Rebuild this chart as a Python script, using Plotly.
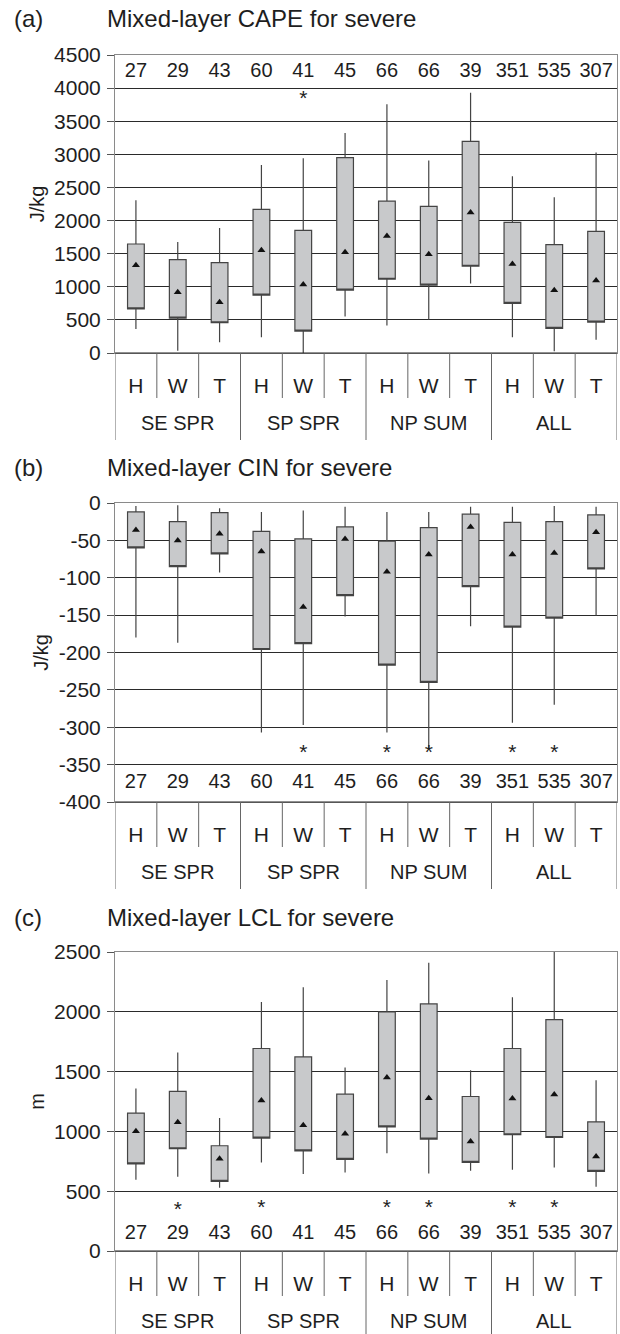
import plotly.graph_objects as go
from plotly.subplots import make_subplots

# ---------------- data ----------------
groups = ["SE SPR", "SP SPR", "NP SUM", "ALL"]
subcats = ["H", "W", "T"]
counts = [27, 29, 43, 60, 41, 45, 66, 66, 39, 351, 535, 307]

# (a) Mixed-layer CAPE (J/kg)
cape_upper = [2308, 1676, 1887, 2840, 2940, 3322, 3758, 2905, 3929, 2669, 2353, 3026]
cape_q3    = [1646, 1410, 1365, 2168, 1851, 2950, 2293, 2213, 3196, 1972, 1636, 1836]
cape_mean  = [1325,  918,  768, 1550, 1034, 1520, 1766, 1490, 2122, 1345,  948, 1094]
cape_q1    = [ 667,  527,  457,  873,  331,  948, 1114, 1024, 1310,  748,  371,  467]
cape_lower = [ 361,   35,  161,  236,    0,  552,  416,  502, 1049,  236,   25,  201]
cape_out_idx = [4]
cape_out_val = [3830]

# (b) Mixed-layer CIN (J/kg)
cin_upper = [-4, -3, -7, -12, -10, -5, -12, -12, -5, -5, -4, -5]
cin_q3    = [-12, -25, -13, -38, -48, -32, -51, -33, -15, -26, -25, -16]
cin_mean  = [-36, -50, -41, -65, -139, -48, -92, -69, -32, -69, -67, -39]
cin_q1    = [-60, -85, -68, -196, -188, -124, -217, -240, -112, -166, -154, -88]
cin_lower = [-180, -187, -93, -307, -297, -152, -307, -329, -165, -294, -270, -151]
cin_out_idx = [4, 6, 7, 9, 10]
cin_out_val = [-336, -336, -336, -336, -336]

# (c) Mixed-layer LCL (m)
lcl_upper = [1359, 1659, 1111, 2082, 2205, 1534, 2266, 2411, 1512, 2121, 2500, 1428]
lcl_q3    = [1153, 1334,  880, 1693, 1623, 1311, 1999, 2066, 1292, 1693, 1935, 1080]
lcl_mean  = [1002, 1077,  771, 1258, 1052,  980, 1450, 1278,  916, 1275, 1308,  791]
lcl_q1    = [ 729,  855,  582,  944,  838,  766, 1038,  935,  741,  972,  949,  665]
lcl_lower = [ 596,  621,  529,  741,  643,  657,  818,  649,  671,  679,  699,  537]
lcl_out_idx = [1, 3, 6, 7, 9, 10]
lcl_out_val = [338, 355, 355, 355, 355, 355]

panel_letters = ["(a)", "(b)", "(c)"]
panel_titles = ["Mixed-layer CAPE for severe", "Mixed-layer CIN for severe",
                "Mixed-layer LCL for severe"]
y_titles = ["J/kg", "J/kg", "m"]
y_ranges = [[0, 4500], [-400, 0], [0, 2500]]
y_ticks = [list(range(0, 4501, 500)), list(range(-400, 1, 50)), list(range(0, 2501, 500))]
count_y = [4250, -375, 142]

panels = [
    (cape_upper, cape_q3, cape_mean, cape_q1, cape_lower, cape_out_idx, cape_out_val),
    (cin_upper, cin_q3, cin_mean, cin_q1, cin_lower, cin_out_idx, cin_out_val),
    (lcl_upper, lcl_q3, lcl_mean, lcl_q1, lcl_lower, lcl_out_idx, lcl_out_val),
]

# ---------------- layout constants (pixels) ----------------
W, H = 620, 1334
ML, MR = 115, 3
plot_w = W - ML - MR
plot_px = [(55, 353), (503, 802), (952, 1251)]   # top, bottom of each plot area
title_px = [19, 468, 917]
FONT = "Liberation Sans, Arial, sans-serif"
TXT = "#1e1e1e"

labels = [s for g in groups for s in subcats]
xpos = list(range(len(labels)))

fig = make_subplots(rows=3, cols=1)

for k, (up, q3, mn, q1, lo, oi, ov) in enumerate(panels):
    r = k + 1
    fig.add_trace(go.Box(
        x=xpos, q1=q1, median=q1, q3=q3, lowerfence=lo, upperfence=up,
        width=0.4, whiskerwidth=0, boxpoints=False,
        fillcolor="#c8c9cb", line=dict(color="#444444", width=1.2),
        showlegend=False, hoverinfo="skip"), row=r, col=1)
    fig.add_trace(go.Scatter(
        x=xpos, y=mn, mode="markers",
        marker=dict(symbol="triangle-up", size=7, color="#111111"),
        showlegend=False, hoverinfo="skip"), row=r, col=1)
    fig.add_trace(go.Scatter(
        x=oi, y=ov, mode="text", text=["*"] * len(oi),
        textfont=dict(family=FONT, size=21, color=TXT),
        showlegend=False, hoverinfo="skip"), row=r, col=1)
    fig.add_trace(go.Scatter(
        x=xpos, y=[count_y[k]] * len(counts), mode="text",
        text=[str(c) for c in counts],
        textfont=dict(family=FONT, size=20, color=TXT),
        showlegend=False, hoverinfo="skip"), row=r, col=1)

shapes = []
annotations = []
for k in range(3):
    top, bot = plot_px[k]
    hpx = bot - top
    d0 = 1 - bot / H
    d1 = 1 - top / H
    xa = "xaxis" if k == 0 else f"xaxis{k+1}"
    ya = "yaxis" if k == 0 else f"yaxis{k+1}"
    xr = "x" if k == 0 else f"x{k+1}"
    yr = "y" if k == 0 else f"y{k+1}"
    fig.layout[ya].update(
        domain=[d0, d1], range=y_ranges[k],
        tickmode="array", tickvals=y_ticks[k], ticktext=[str(v) for v in y_ticks[k]],
        showgrid=True, gridcolor="#2a2a2a", gridwidth=1,
        zeroline=False, showline=True, mirror=True, linecolor="#8a8a8a", linewidth=1,
        ticks="outside", ticklen=7, tickcolor="#555555",
        tickfont=dict(family=FONT, size=21, color=TXT),
        ticklabelstandoff=2,
        title=dict(text=y_titles[k], font=dict(family=FONT, size=20, color=TXT), standoff=4),
        automargin=False, fixedrange=True)
    fig.layout[xa].update(
        domain=[0, 1], range=[-0.5, len(labels) - 0.5],
        tickmode="array", tickvals=xpos, ticktext=labels,
        ticks="", showgrid=False, zeroline=False,
        showline=True, mirror=True, linecolor="#8a8a8a", linewidth=1,
        tickfont=dict(family=FONT, size=21, color=TXT),
        ticklabelstandoff=14, automargin=False, fixedrange=True)
    # dark bottom axis line
    shapes.append(dict(type="line", xref=f"{xr} domain", yref=f"{yr} domain",
                       x0=0, x1=1, y0=0, y1=0, line=dict(color="#222222", width=1.2)))
    # category separators
    for b in range(len(labels) + 1):
        xb = b - 0.5
        long_sep = (b % len(subcats) == 0)
        depth = 87 if long_sep else 45
        shapes.append(dict(type="line", xref=xr, yref=f"{yr} domain",
                           x0=xb, x1=xb, y0=0, y1=-depth / hpx,
                           line=dict(color="#666666", width=1)))
    # group labels
    for gi, g in enumerate(groups):
        annotations.append(dict(
            x=gi * len(subcats) + (len(subcats) - 1) / 2, y=-70 / hpx,
            xref=xr, yref=f"{yr} domain", text=g, showarrow=False,
            xanchor="center", yanchor="middle",
            font=dict(family=FONT, size=20, color=TXT)))
    # panel titles
    ty = 1 - title_px[k] / H
    annotations.append(dict(x=(12 - ML) / plot_w, y=ty, xref="paper", yref="paper",
                            text=panel_letters[k], showarrow=False, xanchor="left",
                            yanchor="middle", font=dict(family=FONT, size=24, color=TXT)))
    annotations.append(dict(x=(105 - ML) / plot_w, y=ty, xref="paper", yref="paper",
                            text=panel_titles[k], showarrow=False, xanchor="left",
                            yanchor="middle", font=dict(family=FONT, size=24, color=TXT)))

fig.update_layout(
    width=W, height=H, template="none",
    margin=dict(l=ML, r=MR, t=0, b=0, autoexpand=False),
    paper_bgcolor="white", plot_bgcolor="white",
    shapes=shapes, annotations=annotations,
    font=dict(family=FONT, color=TXT),
)

fig.write_html("out.html", config={"displayModeBar": False, "staticPlot": True},
               post_script="document.body.style.margin='0';document.body.style.overflow='hidden';")
